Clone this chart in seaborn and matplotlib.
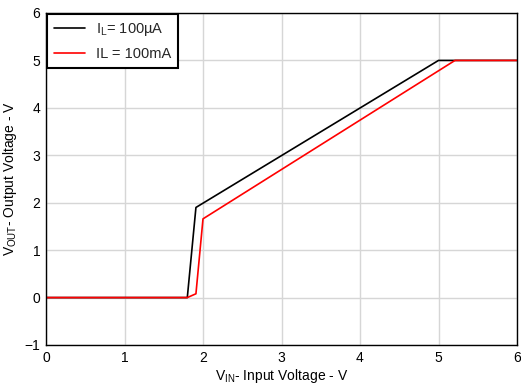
import matplotlib
matplotlib.use("Agg")
import matplotlib.pyplot as plt
import seaborn as sns
import pandas as pd

# Data
vin_100uA = [0.0, 1.80, 1.91, 5.0, 6.0]
vout_100uA = [0.0, 0.0, 1.90, 5.0, 5.0]
vin_100mA = [0.0, 1.80, 1.91, 2.0, 5.21, 6.0]
vout_100mA = [0.0, 0.0, 0.08, 1.66, 5.0, 5.0]
labels = [r"I$_{\mathregular{L}}$= 100µA", "IL = 100mA"]
colors = ["#000000", "#ff0000"]

sns.set_theme(style="whitegrid")
plt.rcParams["font.family"] = ["Liberation Sans", "DejaVu Sans"]
plt.rcParams["mathtext.fontset"] = "custom"
plt.rcParams["mathtext.rm"] = "Liberation Sans"

df = pd.concat([
    pd.DataFrame({"x": vin_100uA, "y": vout_100uA, "s": labels[0]}),
    pd.DataFrame({"x": vin_100mA, "y": vout_100mA, "s": labels[1]}),
])

fig = plt.figure(figsize=(5.21, 3.85), dpi=100)
ax = fig.add_axes([46/521, 1-345/385, (517-46)/521, (345-13)/385])
sns.lineplot(data=df, x="x", y="y", hue="s", palette=colors, sort=False,
             estimator=None, linewidth=1.2, ax=ax)

ax.set_xlim(0, 6)
ax.set_ylim(-1, 6)
ax.set_xticks(range(0, 7))
ax.set_yticks(range(-1, 7))
ax.grid(True, color="#d6d6d6", linewidth=1.0)
for s in ax.spines.values():
    s.set_color("black")
    s.set_linewidth(1.0)
ax.tick_params(axis="both", labelsize=10, colors="black", length=0, pad=4)
ax.set_xlabel(r"V$_{\mathregular{IN}}$- Input Voltage - V", fontsize=10, color="black", labelpad=2)
ax.set_ylabel(r"V$_{\mathregular{OUT}}$- Output Voltage - V", fontsize=10, color="black", labelpad=4)

leg = ax.legend(loc="upper left", fontsize=10.5, frameon=True, fancybox=False,
                borderaxespad=0.1, handlelength=2.1, handletextpad=0.8,
                borderpad=0.45, labelspacing=0.65)
leg.get_frame().set_edgecolor("black")
leg.get_frame().set_linewidth(1.5)
leg.get_frame().set_alpha(1)

fig.savefig("out.png", dpi=100)
